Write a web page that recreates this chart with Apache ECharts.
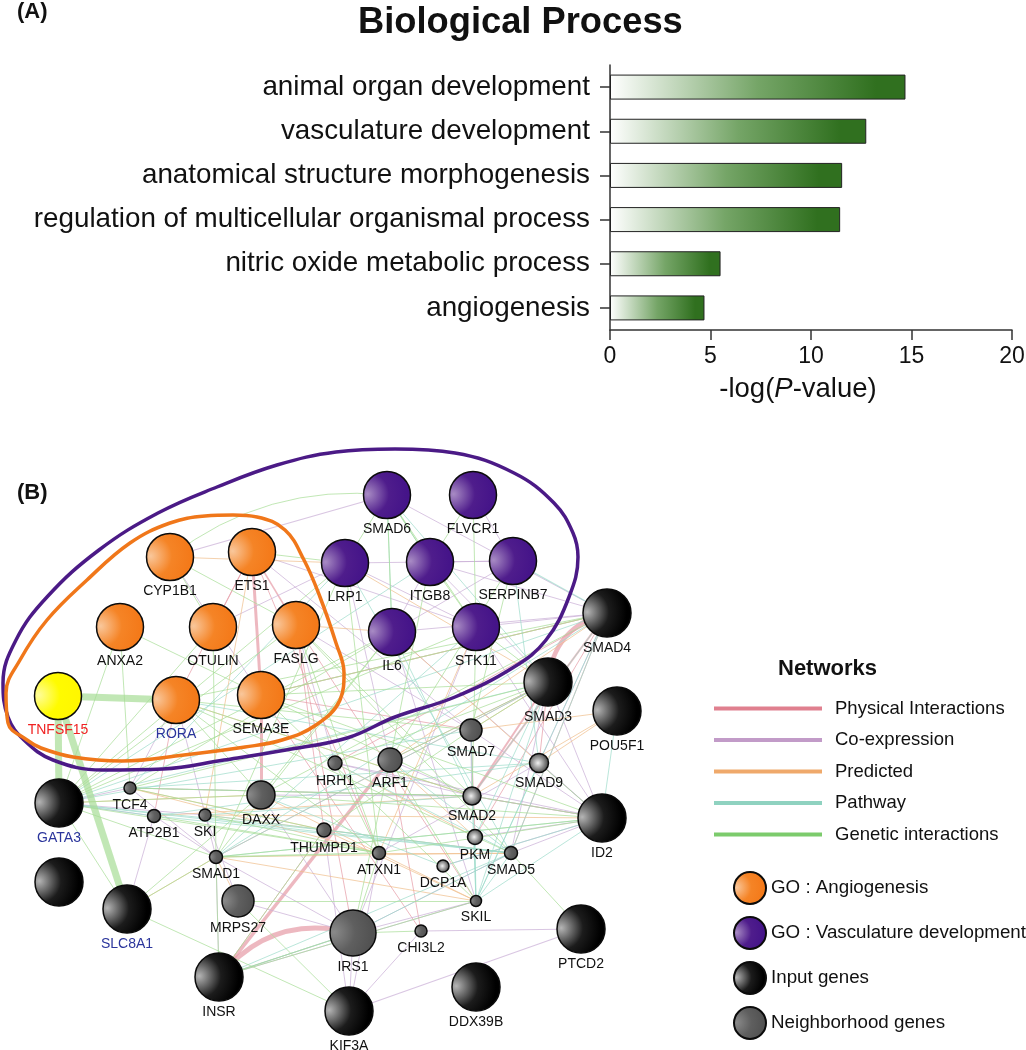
<!DOCTYPE html>
<html>
<head>
<meta charset="utf-8">
<style>html,body{margin:0;padding:0;background:#fff}#main{width:1026px;height:1050px}</style>
<script src="https://cdn.jsdelivr.net/npm/echarts@6/dist/echarts.min.js"></script>
</head>
<body>
<div id="main"></div>
<script>
// panel A
var terms = ['animal organ development','vasculature development','anatomical structure morphogenesis','regulation of multicellular organismal process','nitric oxide metabolic process','angiogenesis'];
var logP = [14.7,12.75,11.55,11.45,5.5,4.7];

// panel B, nodes: [name, x, y, diameter]
var angiogenesisGenes = [['CYP1B1',170,557,47],['ETS1',252,552,47],['ANXA2',120,627,47],['OTULIN',213,627,47],['FASLG',296,625,47],['RORA',176,700,47],['SEMA3E',261,695,47]];
var vasculatureGenes = [['SMAD6',387,495,47],['FLVCR1',473,495,47],['LRP1',345,563,47],['ITGB8',430,562,47],['SERPINB7',513,561,47],['IL6',392,632,47],['STK11',476,627,47]];
var inputGenes = [['SMAD4',607,613,48],['SMAD3',548,682,48],['POU5F1',617,711,48],['GATA3',59,803,48],['',59,882,48],['SLC8A1',127,909,48],['ID2',602,818,48],['PTCD2',581,929,48],['INSR',219,977,48],['KIF3A',349,1011,48],['DDX39B',476,987,48]];
var neighborGenes = [['SMAD7',471,730,22],['HRH1',335,763,14],['ARF1',390,760,24],['TCF4',130,788,12],['ATP2B1',154,816,13],['SKI',205,815,12],['DAXX',261,795,28],['THUMPD1',324,830,14],['SMAD5',511,853,13],['ATXN1',379,853,13],['SMAD1',216,857,13],['SKIL',476,901,11],['MRPS27',238,901,32],['IRS1',353,933,46],['CHI3L2',421,931,12]];
var brightGenes = [['SMAD9',539,763,19],['SMAD2',472,796,18],['PKM',475,837,15],['DCP1A',443,866,12]];
var queryGene = [['TNFSF15',58,696,47]];

// edges: [source, target, weight]
var physicalEdges = [['INSR','IRS1',5],['INSR','ARF1',3.5],['SMAD4','SMAD3',4.5],['SMAD4','SMAD2',2],['SMAD3','SMAD2',2],['SMAD4','SMAD5',1],['SMAD4','PKM',1],['SMAD3','SMAD9',1],['SMAD3','SMAD1',1],['ETS1','SEMA3E',3],['SEMA3E','DAXX',3],['ETS1','RORA',1],['ETS1','FASLG',1.5],['ETS1','OTULIN',1],['FASLG','IRS1',1],['SMAD2','ID2',1],['TCF4','SMAD2',1],['ATP2B1','RORA',1],['ARF1','CHI3L2',1],['THUMPD1','FASLG',1],['SEMA3E','SMAD7',1],['INSR','THUMPD1',1],['FASLG','SKIL',1],['SMAD3','ARF1',1],['SMAD4','HRH1',1],['SMAD7','PKM',1],['ETS1','ATXN1',1],['SEMA3E','CHI3L2',1]];
var coexpressionEdges = [['SMAD6','CYP1B1',1.2],['CYP1B1','SEMA3E',1],['ETS1','STK11',1],['SERPINB7','LRP1',1],['SERPINB7','IL6',1],['ITGB8','IL6',1],['ITGB8','SMAD4',1],['IL6','ID2',1],['STK11','ID2',1],['SMAD4','STK11',1],['SMAD4','SMAD9',1],['SMAD3','ID2',1],['SMAD3','SMAD5',1],['SMAD2','ID2',1],['SMAD9','ID2',1],['ID2','SMAD5',1],['ID2','PKM',1],['GATA3','ATP2B1',1],['GATA3','SKI',1],['ATP2B1','SLC8A1',1],['SKI','MRPS27',1],['SMAD1','IRS1',1],['MRPS27','IRS1',1],['SMAD1','INSR',1],['IRS1','KIF3A',1],['IRS1','SKIL',1],['CHI3L2','PTCD2',1.2],['KIF3A','PTCD2',1.2],['KIF3A','CHI3L2',1],['THUMPD1','KIF3A',1],['ATXN1','KIF3A',1],['DAXX','SMAD2',1],['HRH1','SMAD2',1],['ARF1','SMAD2',1],['SMAD7','SMAD2',1.5],['RORA','TCF4',1],['FASLG','SMAD7',1],['IRS1','INSR',1],['INSR','SKIL',1],['SMAD6','SMAD4',1],['LRP1','STK11',1],['ITGB8','SMAD3',1],['SMAD1','ATP2B1',1],['SEMA3E','SMAD4',1],['ETS1','SMAD7',1],['FASLG','HRH1',1],['LRP1','ARF1',1],['IL6','SMAD4',1],['IL6','SKIL',1],['STK11','IRS1',1],['SMAD5','IRS1',1],['SMAD7','ID2',1],['HRH1','ID2',1],['TCF4','SMAD1',1],['DAXX','IRS1',1],['FLVCR1','SERPINB7',1],['ITGB8','SERPINB7',1],['RORA','SMAD1',1],['GATA3','TCF4',1],['ATXN1','SMAD9',1],['DCP1A','ID2',1],['OTULIN','LRP1',1]];
var predictedEdges = [['TCF4','THUMPD1',1],['TCF4','ATXN1',1],['SKI','SMAD5',1],['ATP2B1','SMAD2',1],['SMAD1','SMAD5',1],['SMAD1','SKIL',1],['ATXN1','SMAD5',1],['POU5F1','SMAD2',1],['SMAD3','SMAD7',1],['GATA3','DAXX',1],['DAXX','SKIL',1],['SLC8A1','SMAD1',1],['SEMA3E','SMAD4',1],['SMAD9','POU5F1',1],['FASLG','IL6',1],['RORA','SMAD2',1],['LRP1','SMAD3',1],['ETS1','SKI',1],['IL6','SMAD9',1],['STK11','ATXN1',1],['HRH1','PKM',1],['ARF1','PKM',1],['THUMPD1','SKIL',1],['SKI','ID2',1],['SMAD7','POU5F1',1],['SMAD4','ARF1',1],['MRPS27','SMAD1',1],['CYP1B1','LRP1',1]];
var pathwayEdges = [['SMAD6','ITGB8',1],['SMAD6','IL6',1],['GATA3','SMAD7',1],['GATA3','SMAD5',1],['GATA3','ATP2B1',1],['TCF4','SMAD2',1],['TCF4','SMAD9',1],['SMAD4','SMAD1',1],['SMAD4','SMAD2',1],['SMAD4','SMAD5',1],['SMAD4','SKIL',1],['SMAD3','SMAD1',1],['SMAD3','SKIL',1],['SMAD3','PKM',1],['ID2','POU5F1',1],['ID2','SMAD1',1],['ID2','DCP1A',1],['ID2','SKIL',1],['SMAD2','SKIL',1],['PKM','SKIL',1],['SMAD5','SKIL',1],['IRS1','INSR',1],['INSR','SMAD5',1],['SKI','SMAD2',1],['SKI','SMAD5',1],['THUMPD1','SMAD5',1],['SERPINB7','SMAD4',1.2],['LRP1','SMAD5',1],['SMAD6','SMAD3',1],['IRS1','SMAD5',1],['GATA3','THUMPD1',1],['ATP2B1','SMAD5',1],['ITGB8','GATA3',1],['LRP1','TCF4',1],['IL6','SMAD2',1],['STK11','SMAD1',1],['SERPINB7','SMAD9',1],['SMAD7','SKIL',1],['HRH1','SMAD5',1],['ARF1','SMAD5',1],['RORA','SMAD9',1],['SMAD9','SKIL',1],['DAXX','DCP1A',1],['ATP2B1','SMAD9',1],['SMAD4','GATA3',1],['SMAD3','GATA3',1]];
var geneticEdges = [['TNFSF15','RORA',7],['TNFSF15','GATA3',7],['TNFSF15','SLC8A1',7],['SMAD6','LRP1',1],['SMAD6','ITGB8',1],['SMAD6','IL6',1],['SMAD6','STK11',1],['FLVCR1','ITGB8',1],['CYP1B1','SMAD6',1],['CYP1B1','OTULIN',1],['ETS1','LRP1',1],['ITGB8','STK11',1],['ITGB8','ARF1',1],['LRP1','GATA3',1],['IL6','GATA3',1],['STK11','SMAD3',1],['STK11','SMAD2',1],['ANXA2','GATA3',1],['ANXA2','TCF4',1],['ANXA2','SEMA3E',1],['OTULIN','GATA3',1],['FASLG','GATA3',1],['FASLG','ATXN1',1],['RORA','ATXN1',1],['RORA','SMAD2',1],['RORA','SMAD5',1],['RORA','DAXX',1],['RORA','SMAD7',1],['SEMA3E','SMAD2',1],['SEMA3E','ID2',1],['SEMA3E','SKIL',1],['TCF4','SMAD2',1],['TCF4','THUMPD1',1],['ATP2B1','ATXN1',1],['SKI','ATXN1',1],['DAXX','ID2',1],['GATA3','DAXX',1],['GATA3','ATXN1',1],['GATA3','SMAD1',1],['GATA3','SLC8A1',1],['SLC8A1','SMAD1',1],['SLC8A1','DAXX',1],['SMAD1','ID2',1],['SMAD1','INSR',1],['SMAD1','ATXN1',1.3],['MRPS27','SKIL',1],['MRPS27','KIF3A',1],['IRS1','CHI3L2',1],['IRS1','ATXN1',1],['IRS1','ARF1',1],['SLC8A1','KIF3A',1],['SMAD5','PTCD2',1],['INSR','SKIL',1],['IRS1','INSR',1],['THUMPD1','INSR',1],['ATXN1','ID2',1],['HRH1','SMAD3',1],['ARF1','SMAD3',1],['SMAD7','SMAD3',1],['SMAD9','ID2',1],['SMAD2','ID2',1],['CYP1B1','FASLG',1],['OTULIN','SMAD1',1],['FASLG','SMAD5',1],['FASLG','SMAD2',1],['LRP1','ATXN1',1],['LRP1','SMAD1',1],['IL6','SMAD1',1],['IL6','TCF4',1],['IL6','DAXX',1],['STK11','GATA3',1],['SERPINB7','ARF1',1],['SERPINB7','SMAD7',1],['SMAD4','DAXX',1],['SMAD4','RORA',1],['SMAD4','SEMA3E',1],['SMAD3','TCF4',1],['SMAD3','SEMA3E',1],['SMAD7','THUMPD1',1],['HRH1','ATXN1',1],['ARF1','SKIL',1],['FLVCR1','STK11',1]];

var networkNames = ['Physical Interactions','Co-expression','Predicted','Pathway','Genetic interactions'];
var networkEdges = [physicalEdges,coexpressionEdges,predictedEdges,pathwayEdges,geneticEdges];
var networkLegendColors = ['#e0808f','#c29bc8','#efa96b','#8fd2c0','#7ccb6c'];
var networkLineColors = ['#e69aa5','#c9aed6','#f0bd8a','#9ddccb','#a6dd95'];

// outlines of the two GO groups
var purpleOutlineX = [395,455,514,554,573,578,569,546,514,455,395,347,286,224,163,102,53,24,8,3,16,47,99,158,217,277,336,395];
var purpleOutlineY = [449,453,473,503,533,557,597,640,667,697,717,738,750,760,769,770,760,740,717,683,640,597,550,513,487,465,452,449];
var orangeOutlineX = [233,257,285,304,320,336,344,340,316,282,245,184,122,73,41,27,8,6,20,47,87,130,170,205,233];
var orangeOutlineY = [515,517,530,560,597,643,673,700,725,740,747,755,761,757,748,740,723,693,660,620,580,543,523,516,515];

var curved = {'INSR-IRS1':0.32,'SMAD4-SMAD3':-0.35,'CYP1B1-SMAD6':0.2};
var arialFont = '"Liberation Sans", Arial, sans-serif';

var blueLabels = ['RORA','GATA3','SLC8A1'];
var allGenes = angiogenesisGenes.concat(vasculatureGenes,inputGenes,neighborGenes,brightGenes,queryGene);
var nodeAt = {};
allGenes.forEach(function(g){ if(g[0]) nodeAt[g[0]] = [g[1],g[2]]; });

function ball(light,mid,dark){
  return new echarts.graphic.RadialGradient(0.1,0.48,0.8,[
    {offset:0,color:light},{offset:0.55,color:mid},{offset:1,color:dark}
  ]);
}

function edgeSeries(i){
  var data = [];
  networkEdges[i].forEach(function(e){
    data.push({
      coords:[nodeAt[e[0]],nodeAt[e[1]]],
      lineStyle:{width:e[2],curveness:curved[e[0]+'-'+e[1]] || 0}
    });
  });
  return {
    type:'lines',name:networkNames[i],coordinateSystem:'cartesian2d',
    xAxisIndex:1,yAxisIndex:1,z:2,silent:true,
    lineStyle:{color:networkLineColors[i],opacity:0.7},
    itemStyle:{color:networkLegendColors[i]},
    data:data
  };
}

function nodeSeries(name,genes,fill){
  return {
    type:'scatter',name:name,xAxisIndex:1,yAxisIndex:1,z:6,
    data:genes.map(function(g){
      var item = {name:g[0],value:[g[1],g[2],g[3]]};
      if(g[0]=='TNFSF15') item.label = {color:'#f02222'};
      if(blueLabels.indexOf(g[0])>=0) item.label = {color:'#2b359c'};
      return item;
    }),
    symbol:'circle',
    symbolSize:function(v){ return v[2]; },
    itemStyle:{color:fill,borderColor:'#0b0b0b',borderWidth:1.5,opacity:1},
    label:{show:true,position:'bottom',distance:3,fontFamily:arialFont,fontSize:14,color:'#111',
      formatter:function(p){ return p.name; }},
    labelLayout:{hideOverlap:false}
  };
}

function outlineSeries(xs,ys,color){
  return {
    type:'line',xAxisIndex:1,yAxisIndex:1,z:4,silent:true,
    data:xs.map(function(x,i){ return [x,ys[i]]; }),
    smooth:0.4,showSymbol:false,symbol:'none',
    lineStyle:{color:color,width:3.5}
  };
}

var chart = echarts.init(document.getElementById('main'),null,{renderer:'canvas'});

var option = {
  animation:false,
  backgroundColor:'#fff',
  textStyle:{fontFamily:arialFont},
  title:[
    {text:'(A)',left:17,top:1,padding:0,textStyle:{fontFamily:arialFont,fontSize:22,fontWeight:'bold',color:'#111'}},
    {text:'Biological Process',left:358,top:5,padding:0,textStyle:{fontFamily:arialFont,fontSize:36.3,fontWeight:'bold',color:'#111'}},
    {text:'(B)',left:17,top:482,padding:0,textStyle:{fontFamily:arialFont,fontSize:22,fontWeight:'bold',color:'#111'}},
    {text:'Networks',left:778,top:658,padding:0,textStyle:{fontFamily:arialFont,fontSize:22,fontWeight:'bold',color:'#111'}}
  ],
  grid:[
    {left:610,top:65,width:402,height:265,outerBoundsMode:'none'},
    {left:0,top:0,width:1026,height:1050,outerBoundsMode:'none'}
  ],
  xAxis:[
    {type:'value',gridIndex:0,min:0,max:20,interval:5,position:'bottom',
      splitLine:{show:false},
      axisLine:{show:true,lineStyle:{color:'#333',width:1.5}},
      axisTick:{show:true,length:10,lineStyle:{color:'#333',width:1.5}},
      axisLabel:{fontFamily:arialFont,fontSize:23,color:'#111',margin:15},
      name:'-log({i|P}-value)',nameLocation:'middle',nameGap:45,
      nameTextStyle:{fontFamily:arialFont,fontSize:27.5,color:'#111',padding:[0,26,0,0],
        rich:{i:{fontFamily:arialFont,fontSize:27.5,fontStyle:'italic',color:'#111'}}}
    },
    {type:'value',gridIndex:1,min:0,max:1026,show:false}
  ],
  yAxis:[
    {type:'category',gridIndex:0,data:terms,inverse:true,
      axisLine:{show:true,lineStyle:{color:'#333',width:1.5}},
      axisTick:{show:true,alignWithLabel:true,length:10,lineStyle:{color:'#333',width:1.5}},
      axisLabel:{fontFamily:arialFont,fontSize:27.8,color:'#111',margin:20,padding:[4,0,0,0]}
    },
    {type:'value',gridIndex:1,min:0,max:1050,inverse:true,show:false}
  ],
  legend:[
    {orient:'vertical',left:714,top:699,padding:0,itemWidth:108,itemHeight:4,itemGap:12.5,icon:'rect',selectedMode:false,
      data:networkNames.map(function(n,i){ return {name:n,itemStyle:{color:networkLegendColors[i],opacity:1}}; }),
      textStyle:{fontFamily:arialFont,fontSize:18.5,color:'#111',padding:[0,0,0,8]}
    },
    {orient:'vertical',left:733,top:871,padding:0,height:179,itemWidth:32,itemHeight:32,itemGap:11,icon:'circle',selectedMode:false,
      data:['GO : Angiogenesis','GO : Vasculature development','Input genes','Neighborhood genes'],
      textStyle:{fontFamily:arialFont,fontSize:18.75,color:'#111'}
    }
  ],
  series:[
    {type:'bar',xAxisIndex:0,yAxisIndex:0,data:logP,barWidth:25,
      itemStyle:{
        borderColor:'#222',borderWidth:1,
        color:new echarts.graphic.LinearGradient(0,0,1,0,[
          {offset:0,color:'#ffffff'},{offset:0.5,color:'#75a567'},{offset:0.9,color:'#30701f'},{offset:1,color:'#30701f'}
        ])
      }
    }
  ].concat(
    networkNames.map(function(n,i){ return edgeSeries(i); }),
    [
      outlineSeries(purpleOutlineX,purpleOutlineY,'#4b1a86'),
      outlineSeries(orangeOutlineX,orangeOutlineY,'#f0771a'),
      nodeSeries('GO : Angiogenesis',angiogenesisGenes,ball('#f9c79b','#f58426','#f47a1a')),
      nodeSeries('GO : Vasculature development',vasculatureGenes,ball('#a88bc4','#4f1d8c','#451489')),
      nodeSeries('Input genes',inputGenes,ball('#b5b5b5','#1c1c1c','#000000')),
      nodeSeries('Neighborhood genes',neighborGenes,ball('#8a8a8a','#5f5f5f','#525252')),
      nodeSeries('bright',brightGenes,new echarts.graphic.RadialGradient(0.45,0.5,0.55,[{offset:0,color:'#f0f0f0'},{offset:1,color:'#3a3a3a'}])),
      nodeSeries('query',queryGene,ball('#fffd9a','#fffb00','#fff700'))
    ]
  )
};
chart.setOption(option);
</script>
</body>
</html>
